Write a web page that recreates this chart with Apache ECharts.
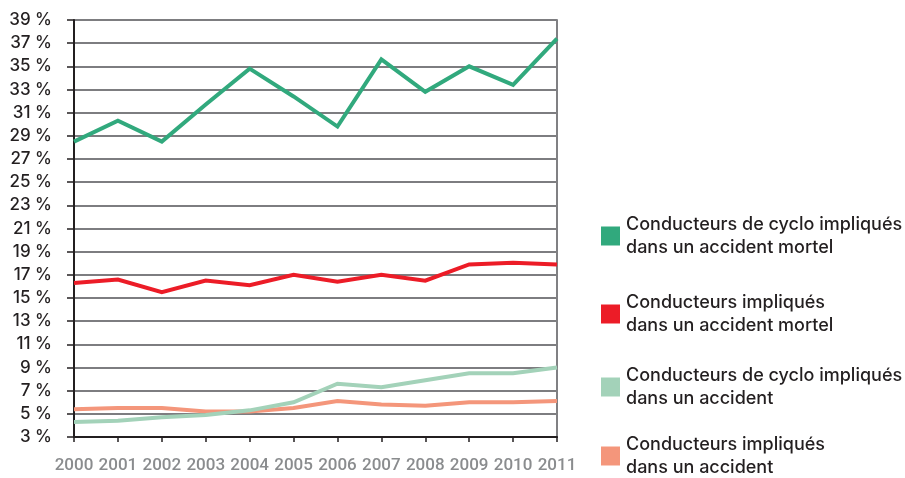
<!DOCTYPE html>
<html>
<head>
<meta charset="utf-8">
<script src="https://cdn.jsdelivr.net/npm/echarts@6/dist/echarts.min.js"></script>
<style>
  html, body { margin: 0; padding: 0; background: #fff; }
  #chart { width: 905px; height: 478px; }
</style>
</head>
<body>
<div id="chart"></div>
<script>
// Years on the horizontal axis
const years = ['2000','2001','2002','2003','2004','2005','2006','2007','2008','2009','2010','2011'];

// Shares in percent, one array per driver group
const cycloMortel = [28.5, 30.3, 28.5, 31.7, 34.8, 32.4, 29.8, 35.6, 32.8, 35.0, 33.4, 37.4];
const conducteursMortel = [16.3, 16.6, 15.5, 16.5, 16.1, 17.0, 16.4, 17.0, 16.5, 17.9, 18.05, 17.9];
const cycloAccident = [4.3, 4.4, 4.7, 4.9, 5.3, 6.0, 7.6, 7.3, 7.9, 8.5, 8.5, 9.0];
const conducteursAccident = [5.4, 5.5, 5.5, 5.2, 5.2, 5.5, 6.1, 5.8, 5.7, 6.0, 6.0, 6.1];

const seriesNames = [
  'Conducteurs de cyclo impliqués\ndans un accident mortel',
  'Conducteurs impliqués\ndans un accident mortel',
  'Conducteurs de cyclo impliqués\ndans un accident',
  'Conducteurs impliqués\ndans un accident'
];
const seriesData = [cycloMortel, conducteursMortel, cycloAccident, conducteursAccident];
const seriesColors = ['#31a97d', '#ec1c27', '#a3d2b9', '#f4967b'];

// Y axis bounds and step
const yMin = 3, yMax = 39, yStep = 2;

const FONT = 'Inter';
const legendTops = [208, 286, 359, 428];

const chart = echarts.init(document.getElementById('chart'), null, { renderer: 'canvas' });

chart.setOption({
  animation: false,
  backgroundColor: '#ffffff',
  grid: { left: 74, right: 348, top: 20, bottom: 41, containLabel: false },
  legend: seriesNames.map((name, i) => ({
    data: [name],
    left: 596,
    top: legendTops[i],
    orient: 'vertical',
    icon: 'rect',
    itemWidth: 19,
    itemHeight: 19,
    itemGap: 0,
    selectedMode: false,
    textStyle: {
      fontFamily: FONT,
      fontSize: 18,
      fontWeight: 500,
      color: '#231f20',
      lineHeight: 23,
      padding: [0, 0, 0, 1]
    }
  })),
  xAxis: {
    type: 'category',
    data: years,
    boundaryGap: false,
    axisLine: { show: true, lineStyle: { color: '#231f20', width: 2 } },
    axisTick: { show: true, length: 5, inside: false, lineStyle: { color: '#231f20', width: 1.5 } },
    axisLabel: {
      fontFamily: 'Roboto', fontSize: 17, fontWeight: 500, color: '#8a8c8e', margin: 20,
      interval: 0
    },
    splitLine: { show: false }
  },
  yAxis: [{
    type: 'value',
    min: yMin,
    max: yMax,
    interval: yStep,
    axisLine: { show: true, lineStyle: { color: '#231f20', width: 2 } },
    axisTick: { show: true, length: 7, lineStyle: { color: '#231f20', width: 1.5 } },
    axisLabel: {
      fontFamily: FONT, fontSize: 17, fontWeight: 500, color: '#231f20', margin: 22,
      formatter: v => v + ' %'
    },
    splitLine: { show: true, lineStyle: { color: '#7d7d80', width: 2 } }
  }, {
    type: 'value',
    min: yMin,
    max: yMax,
    interval: yStep,
    position: 'right',
    axisLine: { show: true, lineStyle: { color: '#808083', width: 2 } },
    axisTick: { show: false },
    axisLabel: { show: false },
    splitLine: { show: false }
  }],
  series: seriesNames.map((name, i) => ({
    name: name,
    type: 'line',
    data: seriesData[i],
    yAxisIndex: 0,
    symbol: 'none',
    smooth: false,
    color: seriesColors[i],
    lineStyle: { width: 4, color: seriesColors[i], join: 'miter' },
    z: 10 - i
  }))
});
</script>
</body>
</html>
